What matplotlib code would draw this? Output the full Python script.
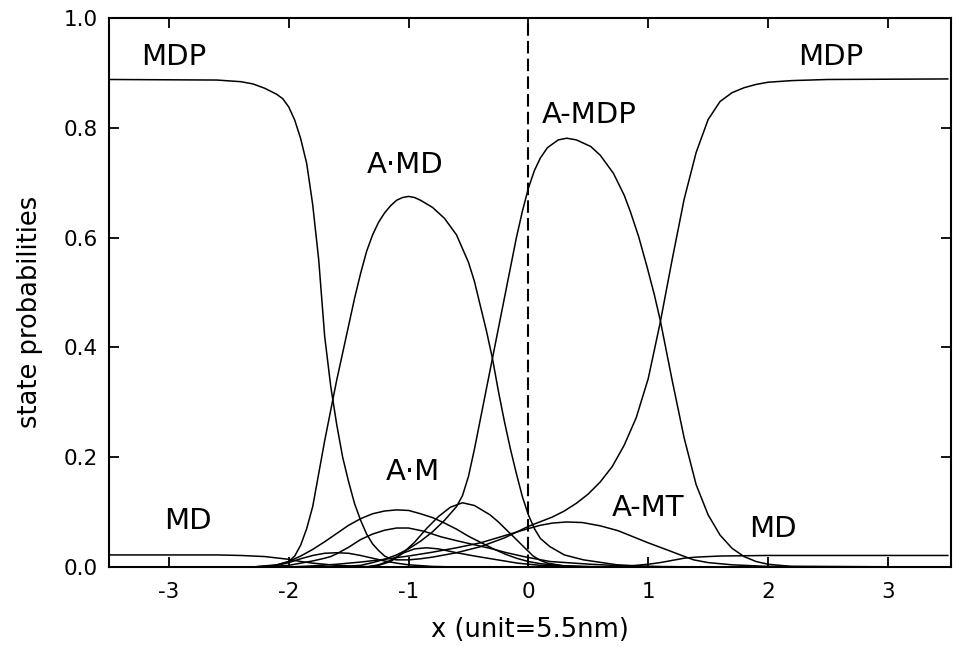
import matplotlib
matplotlib.use("Agg")
import matplotlib.pyplot as plt

plt.rcParams['font.family'] = ['DejaVu Sans']
plt.rcParams['axes.unicode_minus'] = False

# state probability curves, x in units of 5.5 nm
mdp_x = [-3.5, -2.6, -2.4, -2.3, -2.2, -2.1, -2.05, -2.0, -1.95, -1.9, -1.85, -1.8,
         -1.75, -1.7, -1.65, -1.6, -1.55, -1.5, -1.45, -1.4, -1.35, -1.3, -1.25,
         -1.2, -1.15, -1.1, -1.0, -0.9, -0.8, -0.6, -0.4, -0.2, 0.0, 0.2, 0.3, 0.4,
         0.5, 0.6, 0.7, 0.8, 0.9, 1.0, 1.1, 1.2, 1.3, 1.4, 1.5, 1.6, 1.7, 1.8, 1.9,
         2.0, 2.2, 2.5, 3.5]
mdp_y = [0.888, 0.887, 0.884, 0.880, 0.872, 0.861, 0.853, 0.838, 0.814, 0.780, 0.735,
         0.660, 0.560, 0.420, 0.330, 0.260, 0.200, 0.155, 0.115, 0.085, 0.060, 0.042,
         0.030, 0.020, 0.015, 0.013, 0.013, 0.015, 0.018, 0.026, 0.037, 0.053, 0.074,
         0.091, 0.102, 0.116, 0.133, 0.155, 0.183, 0.222, 0.272, 0.343, 0.445, 0.560,
         0.670, 0.755, 0.815, 0.848, 0.864, 0.873, 0.879, 0.883, 0.886, 0.888, 0.889]

amd_x = [-3.5, -2.2, -2.1, -2.0, -1.95, -1.9, -1.85, -1.8, -1.75, -1.7, -1.65, -1.6,
         -1.55, -1.5, -1.45, -1.4, -1.35, -1.3, -1.25, -1.2, -1.15, -1.1, -1.05, -1.0,
         -0.95, -0.9, -0.8, -0.7, -0.6, -0.5, -0.45, -0.4, -0.35, -0.3, -0.25, -0.2,
         -0.15, -0.1, -0.05, 0.0, 0.05, 0.1, 0.18, 0.3, 0.46, 0.74, 1.0, 1.5, 3.5]
amd_y = [0.0, 0.0, 0.003, 0.010, 0.020, 0.040, 0.070, 0.110, 0.170, 0.230, 0.285,
         0.340, 0.390, 0.440, 0.490, 0.535, 0.575, 0.605, 0.628, 0.645, 0.658, 0.668,
         0.673, 0.675, 0.673, 0.668, 0.655, 0.635, 0.605, 0.555, 0.520, 0.475, 0.430,
         0.380, 0.320, 0.265, 0.215, 0.170, 0.128, 0.095, 0.070, 0.052, 0.037, 0.022,
         0.013, 0.004, 0.001, 0.0, 0.0]

amdp_x = [-3.5, -1.6, -1.4, -1.3, -1.2, -1.1, -1.0, -0.9, -0.8, -0.7, -0.6, -0.55,
          -0.5, -0.45, -0.4, -0.35, -0.3, -0.25, -0.2, -0.15, -0.1, -0.05, 0.0, 0.05,
          0.1, 0.16, 0.25, 0.32, 0.4, 0.52, 0.6, 0.71, 0.8, 0.85, 0.92, 0.99, 1.05,
          1.1, 1.2, 1.3, 1.4, 1.5, 1.6, 1.7, 1.8, 1.9, 2.0, 2.2, 3.5]
amdp_y = [0.0, 0.0, 0.003, 0.008, 0.014, 0.022, 0.033, 0.047, 0.064, 0.085, 0.110,
          0.130, 0.165, 0.215, 0.270, 0.325, 0.380, 0.435, 0.490, 0.545, 0.600, 0.648,
          0.690, 0.722, 0.745, 0.764, 0.778, 0.781, 0.778, 0.766, 0.750, 0.717, 0.677,
          0.648, 0.602, 0.547, 0.497, 0.450, 0.340, 0.235, 0.150, 0.095, 0.058, 0.034,
          0.019, 0.010, 0.005, 0.001, 0.0]

am_x = [-3.5, -2.3, -2.1, -2.0, -1.9, -1.8, -1.7, -1.6, -1.5, -1.4, -1.3, -1.2, -1.1,
        -1.0, -0.9, -0.8, -0.7, -0.6, -0.5, -0.4, -0.3, -0.2, -0.1, 0.0, 0.1, 0.3,
        0.6, 3.5]
am_y = [0.0, 0.0, 0.004, 0.010, 0.020, 0.032, 0.046, 0.061, 0.076, 0.088, 0.097,
        0.102, 0.104, 0.103, 0.097, 0.090, 0.080, 0.069, 0.056, 0.045, 0.034, 0.024,
        0.016, 0.010, 0.006, 0.002, 0.0, 0.0]

amt_x = [-3.5, -2.0, -1.8, -1.6, -1.4, -1.2, -1.0, -0.8, -0.6, -0.4, -0.2, 0.0, 0.1,
         0.2, 0.32, 0.45, 0.6, 0.75, 0.875, 1.0, 1.16, 1.28, 1.38, 1.5, 1.7, 2.0, 3.5]
amt_y = [0.0, 0.0, 0.002, 0.005, 0.009, 0.014, 0.020, 0.027, 0.035, 0.044, 0.057,
         0.070, 0.076, 0.080, 0.082, 0.081, 0.075, 0.066, 0.055, 0.044, 0.031, 0.021,
         0.013, 0.008, 0.004, 0.001, 0.0]

md_x = [-3.5, -2.6, -2.4, -2.2, -2.0, -1.9, -1.8, -1.6, -1.4, -1.2, 0.6, 0.8, 1.0,
        1.1, 1.2, 1.3, 1.4, 1.6, 2.0, 3.5]
md_y = [0.022, 0.022, 0.021, 0.019, 0.014, 0.010, 0.007, 0.003, 0.001, 0.0, 0.0,
        0.001, 0.005, 0.008, 0.012, 0.016, 0.018, 0.020, 0.021, 0.021]

# unlabelled minor states
low1_x = [-3.5, -2.2, -2.0, -1.9, -1.8, -1.7, -1.65, -1.6, -1.5, -1.4, -1.3, -1.2,
          -1.1, -1.0, -0.87, -0.73, -0.6, -0.5, -0.32, -0.2, -0.04, 0.18, 0.52, 0.8,
          1.2, 3.5]
low1_y = [0.0, 0.0, 0.003, 0.007, 0.011, 0.016, 0.019, 0.024, 0.036, 0.050, 0.060,
          0.067, 0.071, 0.071, 0.065, 0.055, 0.048, 0.043, 0.034, 0.027, 0.019, 0.010,
          0.005, 0.002, 0.0, 0.0]

low2_x = [-3.5, -1.35, -1.25, -1.15, -1.05, -0.95, -0.85, -0.75, -0.65, -0.55, -0.45,
          -0.32, -0.25, -0.18, -0.1, -0.04, 0.04, 0.1, 0.16, 0.3, 0.5, 3.5]
low2_y = [0.0, 0.0, 0.003, 0.010, 0.025, 0.045, 0.070, 0.092, 0.109, 0.117, 0.112,
          0.095, 0.082, 0.067, 0.050, 0.037, 0.020, 0.012, 0.007, 0.002, 0.0, 0.0]

low3_x = [-3.5, -1.35, -1.25, -1.15, -1.05, -0.95, -0.85, -0.75, -0.6, -0.45, -0.34,
          -0.2, -0.09, 0.1, 0.4, 0.8, 3.5]
low3_y = [0.0, 0.0, 0.004, 0.012, 0.025, 0.033, 0.035, 0.033, 0.026, 0.020, 0.016,
          0.011, 0.007, 0.003, 0.001, 0.0, 0.0]

low4_x = [-3.5, -2.3, -2.1, -2.0, -1.9, -1.8, -1.7, -1.6, -1.5, -1.4, -1.3, -1.2,
          -1.1, -1.0, -0.8, -0.6, 3.5]
low4_y = [0.0, 0.0, 0.003, 0.008, 0.015, 0.021, 0.025, 0.026, 0.025, 0.021, 0.016,
          0.011, 0.007, 0.004, 0.001, 0.0, 0.0]

curves = [(mdp_x, mdp_y), (amd_x, amd_y), (amdp_x, amdp_y), (am_x, am_y),
          (amt_x, amt_y), (md_x, md_y), (low1_x, low1_y), (low2_x, low2_y),
          (low3_x, low3_y), (low4_x, low4_y)]

# label text and where it sits (x, baseline y)
labels = ["MDP", "MDP", "A·MD", "A-MDP", "A·M", "A-MT", "MD", "MD"]
label_x = [-2.96, 2.52, -1.025, 0.505, -0.964, 0.998, -2.84, 2.04]
label_y = [0.914, 0.914, 0.717, 0.809, 0.158, 0.092, 0.069, 0.055]

x_ticks = [-3, -2, -1, 0, 1, 2, 3]
y_ticks = [0.0, 0.2, 0.4, 0.6, 0.8, 1.0]

fig = plt.figure(figsize=(9.58, 6.56), dpi=100)
ax = fig.add_axes([109 / 958, 1 - 567 / 656, 842 / 958, 549 / 656])

for cx, cy in curves:
    ax.plot(cx, cy, color='k', lw=1.1)

ax.plot([0, 0], [0, 1], color='k', lw=1.5, dashes=(6, 2.5))

for txt, tx, ty in zip(labels, label_x, label_y):
    ax.text(tx, ty, txt, fontsize=21, ha='center', va='baseline')

ax.set_xlim(-3.5, 3.527)
ax.set_ylim(0, 1.0)
ax.set_xticks(x_ticks)
ax.set_xticklabels([str(t) for t in x_ticks])
ax.set_yticks(y_ticks)
ax.set_yticklabels(["%.1f" % t for t in y_ticks])
ax.tick_params(direction='in', length=7, width=1.3, top=True, right=True,
               labelsize=15.5)
ax.tick_params(axis='x', pad=11)
ax.tick_params(axis='y', pad=8)
for s in ax.spines.values():
    s.set_linewidth(1.5)

ax.set_xlabel("x (unit=5.5nm)", fontsize=18.5)
ax.set_ylabel("state probabilities", fontsize=18.5)
ax.xaxis.set_label_coords(0.5, -0.091)
ax.yaxis.set_label_coords(-0.078, 0.5 + (312 - 292.5) / -549)

fig.savefig("out.png", dpi=100)
